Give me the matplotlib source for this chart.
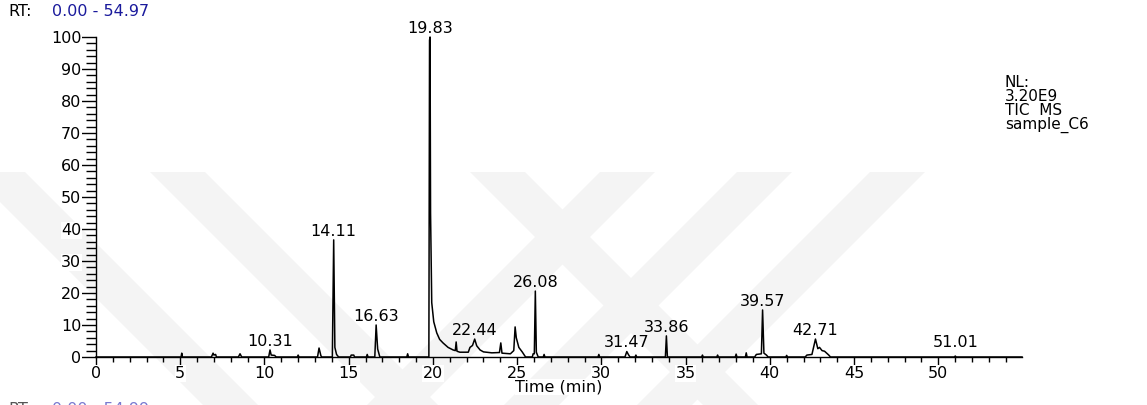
import matplotlib.pyplot as plt
from matplotlib.patches import Polygon
from matplotlib.ticker import MultipleLocator

# TIC trace: (retention time in min, relative abundance %)
trace = [
    (0.00, 0.0), (5.05, 0.0), (5.09, 1.2), (5.13, 0.0),
    (6.85, 0.0), (6.95, 1.2), (7.00, 0.6), (7.10, 0.8), (7.15, 0.0),
    (8.45, 0.0), (8.55, 1.0), (8.65, 0.0),
    (10.25, 0.0), (10.33, 2.2), (10.40, 0.6), (10.60, 0.5), (10.70, 0.0),
    (11.95, 0.0), (12.00, 0.6), (12.05, 0.0),
    (13.15, 0.0), (13.24, 2.8), (13.35, 0.4), (13.40, 0.0),
    (14.03, 0.0), (14.11, 36.6), (14.18, 3.0), (14.28, 0.8), (14.40, 0.0),
    (15.10, 0.0), (15.15, 0.6), (15.30, 0.6), (15.35, 0.0),
    (16.05, 0.0), (16.10, 0.8), (16.15, 0.0),
    (16.55, 0.0), (16.63, 10.0), (16.72, 2.5), (16.85, 0.0),
    (18.45, 0.0), (18.50, 1.0), (18.55, 0.0),
    (19.76, 0.0), (19.80, 99.0), (19.83, 100.0), (19.86, 45.0), (19.93, 17.0),
    (20.05, 11.0), (20.23, 7.5), (20.40, 5.5), (20.60, 4.4), (20.90, 3.0),
    (21.20, 2.2), (21.33, 2.0), (21.38, 4.7), (21.43, 1.8), (21.60, 1.5),
    (22.10, 1.5), (22.20, 3.0), (22.35, 3.6), (22.48, 5.6), (22.60, 3.5),
    (22.80, 2.2), (23.00, 1.6), (23.50, 1.3), (23.95, 1.4), (24.03, 4.4),
    (24.10, 1.2), (24.60, 1.0), (24.80, 2.0), (24.88, 9.4), (24.95, 6.0),
    (25.10, 3.0), (25.30, 1.6), (25.50, 0.0),
    (25.90, 0.0), (25.95, 1.0), (26.02, 1.0), (26.08, 20.6), (26.14, 1.5),
    (26.25, 0.0), (26.55, 0.0), (26.60, 0.8), (26.65, 0.0),
    (29.80, 0.0), (29.85, 0.8), (29.90, 0.0),
    (31.40, 0.0), (31.51, 1.7), (31.60, 0.8), (31.70, 0.0),
    (32.00, 0.0), (32.05, 0.6), (32.10, 0.0),
    (33.80, 0.0), (33.86, 6.6), (33.92, 0.0),
    (35.95, 0.0), (36.00, 0.6), (36.05, 0.0),
    (36.85, 0.0), (36.90, 0.6), (36.95, 0.0),
    (37.95, 0.0), (38.00, 0.9), (38.05, 0.0),
    (38.55, 0.0), (38.60, 1.3), (38.65, 0.0),
    (39.10, 0.0), (39.20, 0.8), (39.50, 1.0), (39.57, 14.7), (39.65, 1.2),
    (39.80, 0.6), (39.90, 0.0),
    (40.95, 0.0), (41.00, 0.5), (41.05, 0.0),
    (42.10, 0.0), (42.20, 0.6), (42.50, 0.8), (42.71, 5.6), (42.85, 2.6),
    (42.95, 3.0), (43.10, 2.0), (43.25, 1.8), (43.50, 0.6), (43.60, 0.0),
    (50.95, 0.0), (51.01, 0.3), (51.06, 0.0), (54.97, 0.0),
]

peak_rt = [10.31, 14.11, 16.63, 19.83, 22.44, 26.08, 31.47, 33.86, 39.57, 42.71, 51.01]
peak_apex = [2.2, 36.6, 10.0, 100.0, 5.6, 20.6, 1.7, 6.6, 14.7, 5.6, 0.3]
peak_x = [10.33, 14.11, 16.63, 19.83, 22.48, 26.08, 31.51, 33.86, 39.57, 42.71, 51.01]

rt = [p[0] for p in trace]
abund = [p[1] for p in trace]

W, H = 1147, 405
FS = 11.5
fig = plt.figure(figsize=(W / 100, H / 100), dpi=100)

# faint thesis watermark bands behind the plot (pixel coords, y from top)
bands = [(-30, 233), (150, 233), (470, 233), (600, -233), (737, -233), (870, -233)]
for x0, shift in bands:
    pts = [(x0, 172), (x0 + 55, 172), (x0 + 55 + shift, 405), (x0 + shift, 405)]
    fig.patches.append(Polygon([(x / W, 1 - y / H) for x, y in pts],
                               closed=True, transform=fig.transFigure,
                               facecolor="#f4f4f4", edgecolor="none", zorder=-5))

ax = fig.add_axes([96 / W, 48 / H, 926 / W, 320 / H])
ax.patch.set_alpha(0)
ax.plot(rt, abund, color="black", lw=1.1, clip_on=False)

for x, lab, y in zip(peak_x, peak_rt, peak_apex):
    ax.annotate(f"{lab:.2f}", (x, max(y, 2.0)), xytext=(0, 4),
                textcoords="offset pixels", ha="center", va="baseline",
                fontsize=FS)

ax.set_xlim(0, 54.97)
ax.set_ylim(0, 100)
for s in ["top", "right"]:
    ax.spines[s].set_visible(False)
ax.spines["left"].set_linewidth(1)
ax.spines["bottom"].set_linewidth(1)

ax.xaxis.set_major_locator(MultipleLocator(5))
ax.xaxis.set_minor_locator(MultipleLocator(1))
ax.yaxis.set_major_locator(MultipleLocator(10))
ax.yaxis.set_minor_locator(MultipleLocator(2))
ax.tick_params(axis="x", which="major", length=6, width=1, pad=0.5, labelsize=FS)
ax.tick_params(axis="x", which="minor", length=3.6, width=1)
ax.tick_params(axis="y", which="major", length=10.5, width=1, pad=0, labelsize=FS)
ax.tick_params(axis="y", which="minor", length=7, width=1)
for t in ax.get_xticklabels() + ax.get_yticklabels():
    t.set_bbox(dict(facecolor="white", edgecolor="none", pad=0.5))
ax.set_xlabel("Time (min)", fontsize=FS, labelpad=-1,
              bbox=dict(facecolor="white", edgecolor="none", pad=0.5))

# header texts
fig.text(8 / W, 1 - 12 / H, "RT:", fontsize=FS, va="center", ha="left")
fig.text(52 / W, 1 - 12 / H, "0.00 - 54.97", fontsize=FS, va="center",
         ha="left", color="#1a1a9c")
fig.text(1005 / W, 1 - 75 / H, "NL:\n3.20E9\nTIC  MS\nsample_C6", fontsize=11,
         va="top", ha="left", linespacing=0.92)
fig.text(8 / W, 1 - 402 / H, "RT:", fontsize=FS, va="top", ha="left", color="#555555")
fig.text(52 / W, 1 - 402 / H, "0.00 - 54.99", fontsize=FS, va="top",
         ha="left", color="#7a7ad0")

fig.savefig("out.png", dpi=100)
